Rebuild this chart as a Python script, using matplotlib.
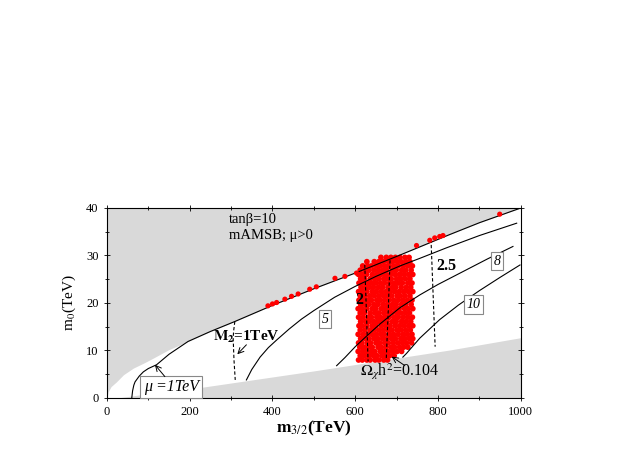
import matplotlib
matplotlib.use('Agg')
import matplotlib.pyplot as plt
import numpy as np

plt.rcParams['font.family'] = ['Liberation Serif', 'DejaVu Serif']
plt.rcParams['mathtext.fontset'] = 'stix'

# excluded regions (gray)
top_edge_x = [0, 3, 10, 23, 40, 64, 90, 112, 150, 196, 250, 309, 400, 500, 600, 700, 828, 900, 1000]
top_edge_y = [0, 1.3, 2.4, 3.4, 4.9, 6.3, 7.4, 8.4, 10.2, 11.9, 14.0, 16.1, 19.5, 23.0, 26.3, 29.8, 34.4, 36.9, 40.0]
low_edge_x = [0, 25, 100, 225, 500, 828, 1000]
low_edge_y = [0, 0, 0.9, 2.2, 5.7, 10.1, 12.7]

# mu = 1 TeV line (joins the upper edge)
mu_x = [60, 62, 65, 68, 78, 88, 100, 120, 150, 196, 250, 309, 400, 500, 600, 700, 828, 900, 1000]
mu_y = [0, 1.5, 2.7, 3.4, 4.6, 5.5, 6.2, 7.0, 9.2, 11.9, 14.0, 16.1, 19.5, 23.0, 26.3, 29.8, 34.4, 36.9, 40.0]

# solid contours 5, 8, 10
c5_x = [337, 350, 370, 390, 410, 440, 470, 500, 550, 600, 650, 708, 756, 820, 900, 990]
c5_y = [3.8, 6.0, 8.6, 10.6, 12.2, 14.5, 16.6, 18.4, 21.2, 23.5, 25.6, 27.8, 29.4, 31.6, 34.2, 36.8]
c8_x = [555, 575, 600, 627, 660, 708, 756, 800, 860, 920, 981]
c8_y = [6.8, 8.5, 10.8, 13.0, 15.6, 19.0, 21.7, 23.9, 26.6, 29.3, 31.9]
c10_x = [715, 724, 756, 804, 850, 900, 950, 998]
c10_y = [8.6, 9.4, 12.6, 16.5, 19.6, 22.6, 25.4, 28.0]

# dashed contours
m2_x = [309, 306, 305, 307, 310]
m2_y = [16.1, 14.0, 12.6, 8.0, 3.8]
d2a_x = [623, 627, 631]
d2a_y = [28.0, 18.0, 7.7]
d2b_x = [684, 680, 675]
d2b_y = [29.0, 19.0, 8.4]
d25_x = [783, 788, 793]
d25_y = [33.4, 22.0, 10.8]

# red points on the upper edge
edge_x = [389, 400, 410, 430, 446, 462, 490, 506, 551, 575, 603, 748, 780, 792, 804, 812, 949]
edge_y = [19.4, 19.8, 20.1, 20.8, 21.4, 21.9, 22.9, 23.4, 25.2, 25.6, 26.3, 32.1, 33.2, 33.7, 34.0, 34.2, 38.7]

# red cloud, row by row (m0 level: m3/2 values)
cloud_rows = {
    8.0: [608, 617, 628, 636, 648, 657, 669, 678],
    8.9: [612, 622, 633, 644, 652, 664, 673, 683, 694],
    9.8: [607, 618, 627, 639, 647, 660, 668, 679, 690, 701, 712],
    10.7: [611, 621, 632, 641, 655, 663, 674, 686, 695, 707, 717, 727],
    11.6: [608, 616, 629, 637, 650, 659, 671, 680, 692, 703, 714, 724, 736],
    12.5: [613, 624, 633, 645, 654, 666, 677, 688, 697, 710, 719, 731, 739],
    13.4: [607, 619, 630, 640, 651, 662, 670, 683, 693, 704, 716, 726, 737],
    14.3: [612, 623, 636, 646, 657, 668, 679, 689, 701, 711, 722, 733],
    15.2: [609, 617, 628, 641, 650, 663, 674, 684, 696, 707, 718, 729, 739],
    16.1: [613, 625, 634, 645, 656, 667, 677, 690, 699, 712, 723, 734],
    17.0: [608, 619, 631, 639, 652, 661, 672, 682, 694, 704, 716, 727, 738],
    17.9: [612, 622, 636, 647, 657, 669, 680, 688, 700, 710, 721, 731],
    18.8: [607, 617, 628, 641, 650, 663, 673, 685, 696, 706, 719, 728, 739],
    19.7: [613, 624, 633, 645, 655, 667, 678, 690, 699, 712, 722, 735],
    20.6: [609, 619, 630, 639, 652, 660, 671, 682, 693, 704, 715, 726, 737],
    21.5: [612, 623, 635, 646, 657, 668, 677, 688, 701, 709, 720, 732],
    22.4: [608, 618, 628, 641, 651, 663, 674, 684, 695, 706, 717, 728, 739],
    23.3: [614, 625, 634, 644, 656, 666, 679, 690, 698, 711, 723, 734],
    24.2: [609, 619, 631, 640, 650, 661, 671, 683, 694, 704, 714, 727, 737],
    25.1: [613, 622, 636, 647, 657, 669, 678, 687, 700, 710, 721, 732],
    26.0: [608, 618, 627, 641, 652, 662, 673, 685, 696, 707, 718, 729, 739],
    26.9: [612, 624, 633, 645, 656, 667, 676, 690, 699, 712, 722, 735],
    27.8: [618, 630, 639, 651, 661, 672, 682, 693, 704, 716, 727, 738],
    28.7: [628, 646, 657, 668, 680, 690, 701, 711, 722, 732],
    29.6: [662, 675, 686, 697, 708, 720, 730],
}


def main():
    fig = plt.figure(figsize=(6.29, 4.5), dpi=100)
    ax = fig.add_axes([0.170, 0.1156, 0.658, 0.4222])
    gray = '#d9d9d9'

    ax.fill_between(top_edge_x, top_edge_y, 40, color=gray, lw=0, zorder=0)
    ax.fill_between(low_edge_x, 0, low_edge_y, color=gray, lw=0, zorder=0)

    ax.plot(mu_x, mu_y, color='black', lw=0.8)
    ax.plot(c5_x, c5_y, color='black', lw=0.8)
    ax.plot(c8_x, c8_y, color='black', lw=0.8)
    ax.plot(c10_x, c10_y, color='black', lw=0.8)
    for xs, ys in [(m2_x, m2_y), (d2a_x, d2a_y), (d2b_x, d2b_y), (d25_x, d25_y)]:
        ax.plot(xs, ys, color='black', lw=0.8, ls=(0, (3, 2)))

    cx, cy = [], []
    for y, xs in cloud_rows.items():
        cx += xs
        cy += [y] * len(xs)
    ax.scatter(cx, cy, s=17, color='#ff0000', edgecolors='none', zorder=1.5)
    ax.scatter(edge_x, edge_y, s=14, color='#ff0000', edgecolors='none', zorder=3)

    # texts
    ax.text(294, 37.5, 'tanβ=10', fontsize=10.5, va='center')
    ax.text(294, 34.2, 'mAMSB; μ>0', fontsize=10.5, va='center')
    ax.text(257, 12.9, r'$\mathbf{M_2}$=1TeV', fontsize=11, fontweight='bold', va='center')
    ax.text(611, 5.5, r'$\Omega_\chi$h$^2$=0.104', fontsize=11.5, va='center')
    ax.text(600, 20.7, '2', fontsize=11.5, fontweight='bold', va='center')
    ax.text(796, 27.8, '2.5', fontsize=11.5, fontweight='bold', va='center')

    box = dict(boxstyle='square,pad=0.2', fc='white', ec='#888888', lw=0.8)
    ax.text(527, 16.6, '5', fontsize=10, style='italic', ha='center', va='center', bbox=box)
    ax.text(943, 28.8, '8', fontsize=10, style='italic', ha='center', va='center', bbox=box)
    ax.text(886, 19.7, '10', fontsize=10, style='italic', ha='center', va='center', bbox=box)
    ax.text(155, 2.3, 'μ =1TeV', fontsize=11.5, style='italic', ha='center', va='center', bbox=box)

    arr = dict(arrowstyle='->', lw=0.7, color='black', shrinkA=0, shrinkB=0)
    ax.annotate('', xy=(116, 7.0), xytext=(140, 4.5), arrowprops=arr)
    ax.annotate('', xy=(315, 9.2), xytext=(337, 11.2), arrowprops=arr)
    ax.annotate('', xy=(688, 8.7), xytext=(720, 6.8), arrowprops=arr)

    ax.set_xlim(0, 1000)
    ax.set_ylim(0, 40)
    ax.set_xticks(range(0, 1001, 200))
    ax.set_xticks(range(0, 1001, 100), minor=True)
    ax.set_yticks(range(0, 41, 10))
    ax.set_yticks(range(0, 41, 5), minor=True)
    ax.tick_params(which='both', direction='inout', top=True, right=True, labelsize=9)
    ax.tick_params(which='major', length=5, width=0.6)
    ax.tick_params(which='minor', length=3, width=0.6)
    for s in ax.spines.values():
        s.set_linewidth(0.8)

    ax.set_xlabel(r'$\mathbf{m}_{3/2}$(TeV)', fontsize=12.5, fontweight='bold', labelpad=0)
    ax.set_ylabel(r'm$_0$(TeV)', fontsize=11, labelpad=6)

    fig.savefig('out.png', dpi=100)


if __name__ == "__main__":
    main()
